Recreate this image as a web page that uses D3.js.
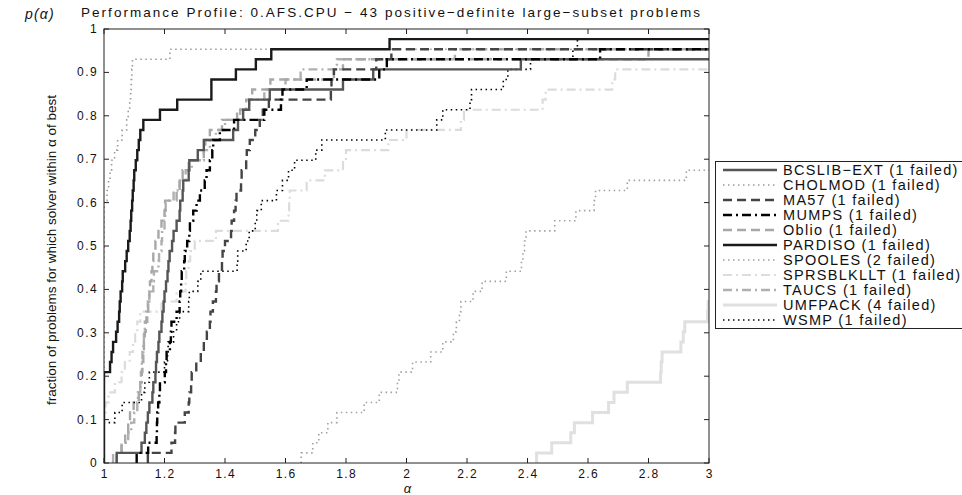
<!DOCTYPE html>
<html><head><meta charset="utf-8">
<script src="https://cdn.jsdelivr.net/npm/d3@7"></script>
<style>
body{margin:0;background:#fff;}
svg{display:block;}
text{font-family:"Liberation Sans",Helvetica,Arial,sans-serif;}
</style></head>
<body>
<div id="chart"></div>
<script>
const nProblems = 43;
const xTicks = [1,1.2,1.4,1.6,1.8,2,2.2,2.4,2.6,2.8,3];
const yTicks = [0,0.1,0.2,0.3,0.4,0.5,0.6,0.7,0.8,0.9,1];
const xTickLabels = ["1","1.2","1.4","1.6","1.8","2","2.2","2.4","2.6","2.8","3"];
const yTickLabels = ["0","0.1","0.2","0.3","0.4","0.5","0.6","0.7","0.8","0.9","1"];

const solvers = ["BCSLIB\u2212EXT (1 failed)","CHOLMOD (1 failed)","MA57 (1 failed)","MUMPS (1 failed)","Oblio (1 failed)","PARDISO (1 failed)","SPOOLES (2 failed)","SPRSBLKLLT (1 failed)","TAUCS (1 failed)","UMFPACK (4 failed)","WSMP (1 failed)"];

// sorted performance ratios (one per problem solved within alpha=3)
const bcslib = [1.042,1.124,1.135,1.14,1.145,1.15,1.16,1.163,1.17,1.172,1.175,1.18,1.183,1.19,1.193,1.197,1.20,1.205,1.21,1.213,1.217,1.225,1.23,1.24,1.25,1.252,1.26,1.262,1.28,1.282,1.31,1.33,1.427,1.443,1.46,1.48,1.548,1.79,1.89,2.378];
const cholmod = [1,1,1,1,1,1,1,1,1,1,1,1,1,1,1,1,1,1,1,1,1,1,1,1,1,1,1.01,1.015,1.02,1.025,1.035,1.045,1.06,1.075,1.08,1.085,1.088,1.09,1.092,1.094,1.218];
const ma57 = [1.145,1.223,1.235,1.236,1.267,1.28,1.282,1.288,1.29,1.305,1.32,1.33,1.34,1.35,1.352,1.36,1.37,1.372,1.38,1.39,1.392,1.40,1.42,1.422,1.43,1.435,1.438,1.453,1.455,1.47,1.472,1.482,1.50,1.515,1.525,1.545,1.75,1.752,1.76,1.90,1.95];
const mumps = [1.108,1.146,1.174,1.175,1.176,1.179,1.183,1.185,1.201,1.205,1.207,1.218,1.221,1.223,1.24,1.25,1.252,1.255,1.257,1.265,1.267,1.275,1.282,1.284,1.295,1.306,1.317,1.333,1.339,1.35,1.358,1.361,1.383,1.43,1.53,1.585,1.59,1.67,1.91,1.935,2.64];
const oblio = [1.042,1.058,1.07,1.08,1.086,1.098,1.115,1.12,1.125,1.127,1.13,1.132,1.135,1.138,1.143,1.146,1.15,1.152,1.157,1.16,1.163,1.17,1.18,1.19,1.20,1.202,1.24,1.25,1.26,1.28,1.33,1.335,1.35,1.39,1.44,1.47,1.49,1.55,1.76,1.79,2.80];
const pardiso = [1,1,1,1,1,1,1,1,1,1.02,1.025,1.03,1.04,1.045,1.05,1.052,1.055,1.06,1.062,1.07,1.075,1.08,1.085,1.088,1.09,1.093,1.095,1.098,1.10,1.105,1.11,1.115,1.12,1.13,1.185,1.242,1.355,1.355,1.436,1.502,1.553,1.944];
const spooles = [1.652,1.69,1.71,1.74,1.77,1.86,1.91,1.97,1.975,2.02,2.08,2.12,2.155,2.165,2.175,2.18,2.22,2.25,2.33,2.38,2.385,2.39,2.395,2.49,2.56,2.62,2.625,2.73,2.925];
const sprsblkllt = [1,1,1,1,1,1.005,1.015,1.036,1.058,1.069,1.085,1.096,1.103,1.11,1.12,1.19,1.24,1.27,1.272,1.28,1.285,1.30,1.37,1.575,1.61,1.612,1.614,1.67,1.73,1.79,1.80,1.94,2.0,2.18,2.19,2.45,2.46,2.68,2.69];
const taucs = [1.03,1.058,1.08,1.09,1.10,1.11,1.112,1.12,1.122,1.125,1.127,1.13,1.132,1.135,1.14,1.145,1.15,1.163,1.165,1.18,1.182,1.19,1.192,1.20,1.202,1.204,1.23,1.25,1.27,1.29,1.33,1.35,1.37,1.40,1.45,1.48,1.53,1.60,1.65,1.77,2.16];
const umfpack = [2.43,2.48,2.543,2.555,2.615,2.668,2.686,2.73,2.84,2.842,2.845,2.907,2.915,2.92,2.995,2.997];
const wsmp = [1,1,1,1,1.036,1.06,1.124,1.135,1.15,1.2,1.21,1.212,1.23,1.24,1.25,1.28,1.282,1.31,1.32,1.44,1.442,1.47,1.48,1.5,1.505,1.52,1.57,1.59,1.61,1.63,1.70,1.72,1.93,2.10,2.12,2.21,2.215,2.32,2.335,2.41,2.55,2.565];

const seriesData = [bcslib,cholmod,ma57,mumps,oblio,pardiso,spooles,sprsblkllt,taucs,umfpack,wsmp];
const styles = [
  {c:"#555555",w:2.4,d:null},
  {c:"#9a9a9a",w:1.6,d:"1.5,3.5"},
  {c:"#444444",w:2.4,d:"9,5"},
  {c:"#000000",w:2.4,d:"9,4,2,4"},
  {c:"#a8a8a8",w:2.4,d:"9,5"},
  {c:"#1a1a1a",w:2.4,d:null},
  {c:"#a0a0a0",w:1.6,d:"1.5,3.5"},
  {c:"#dcdcdc",w:2.2,d:"9,4,2,4"},
  {c:"#b0b0b0",w:2.4,d:"9,4,2,4"},
  {c:"#e0e0e0",w:3.0,d:null},
  {c:"#000000",w:1.6,d:"1.5,3.5"}
];
// draw order: light lines first, darker later
const drawOrder = [9,7,6,8,4,1,10,0,2,3,5];

const W=962,H=495;
const L=104,R=709,T=29,B=463;
const svg=d3.select("#chart").append("svg").attr("width",W).attr("height",H);
const x=d3.scaleLinear().domain([1,3]).range([L,R]);
const y=d3.scaleLinear().domain([0,1]).range([B,T]);

svg.append("clipPath").attr("id","clp").append("rect").attr("x",L).attr("y",T-3).attr("width",R-L).attr("height",B-T+3);

const line=d3.line().x(d=>x(d[0])).y(d=>y(d[1])).curve(d3.curveStepAfter);
const g=svg.append("g").attr("clip-path","url(#clp)");
drawOrder.forEach(i=>{
  const r=seriesData[i];
  const pts=[[r[0],0]];
  r.forEach((a,k)=>pts.push([a,(k+1)/nProblems]));
  pts.push([3.05,r.length/nProblems]);
  const s=styles[i];
  g.append("path").attr("d",line(pts)).attr("fill","none")
   .attr("stroke",s.c).attr("stroke-width",s.w)
   .attr("stroke-dasharray",s.d).attr("stroke-linejoin","miter");
});

// axes box
svg.append("rect").attr("x",L).attr("y",T).attr("width",R-L).attr("height",B-T)
  .attr("fill","none").attr("stroke","#222").attr("stroke-width",1);
const tl=5;
const ax=svg.append("g").attr("stroke","#222").attr("stroke-width",1);
xTicks.forEach(v=>{
  ax.append("line").attr("x1",x(v)).attr("x2",x(v)).attr("y1",B).attr("y2",B-tl);
  ax.append("line").attr("x1",x(v)).attr("x2",x(v)).attr("y1",T).attr("y2",T+tl);
});
yTicks.forEach(v=>{
  ax.append("line").attr("x1",L).attr("x2",L+tl).attr("y1",y(v)).attr("y2",y(v));
  ax.append("line").attr("x1",R).attr("x2",R-tl).attr("y1",y(v)).attr("y2",y(v));
});
xTicks.forEach((v,i)=>{
  svg.append("text").attr("x",x(v)+0.7).attr("y",B+15).attr("text-anchor","middle")
    .attr("font-size",12).attr("letter-spacing",1.4).attr("fill","#111").text(xTickLabels[i]);
});
yTicks.forEach((v,i)=>{
  svg.append("text").attr("x",L-6).attr("y",y(v)+4).attr("text-anchor","end")
    .attr("font-size",12).attr("letter-spacing",1.4).attr("fill","#111").text(yTickLabels[i]);
});

// title
svg.append("text").attr("x",81).attr("y",17)
  .attr("font-size",13.5).attr("textLength",619).attr("lengthAdjust","spacing").attr("fill","#111")
  .text("Performance Profile: 0.AFS.CPU \u2212 43 positive\u2212definite large\u2212subset problems");
// p(alpha)
svg.append("text").attr("x",25).attr("y",19).attr("font-size",14).attr("letter-spacing",1.2)
  .attr("font-family","'Liberation Serif','DejaVu Serif',serif").attr("font-style","italic")
  .attr("fill","#111").text("p(\u03B1)");
// x label
svg.append("text").attr("x",x(2)+1).attr("y",493).attr("text-anchor","middle").attr("font-size",13)
  .attr("font-family","'Liberation Serif','DejaVu Serif',serif").attr("font-style","italic")
  .attr("fill","#111").text("\u03B1");
// y label
svg.append("text").attr("transform","translate(56,250) rotate(-90)").attr("text-anchor","middle")
  .attr("font-size",12).attr("font-family","'Liberation Sans Narrow','Liberation Sans',sans-serif")
  .attr("textLength",310).attr("lengthAdjust","spacingAndGlyphs").attr("fill","#111")
  .text("fraction of problems for which solver within \u03B1 of best");

// legend
const lg=svg.append("g");
lg.append("rect").attr("x",715.5).attr("y",161.5).attr("width",270).attr("height",167)
  .attr("fill","#fff").attr("stroke","#222").attr("stroke-width",1);
solvers.forEach((name,i)=>{
  const yy=170+i*15;
  const s=styles[i];
  lg.append("line").attr("x1",723).attr("x2",777).attr("y1",yy).attr("y2",yy)
    .attr("stroke",s.c).attr("stroke-width",s.w).attr("stroke-dasharray",s.d);
  lg.append("text").attr("x",783).attr("y",yy+5).attr("font-size",14.5)
    .attr("letter-spacing",1.3).attr("fill","#111").text(name);
});
</script>
</body></html>
